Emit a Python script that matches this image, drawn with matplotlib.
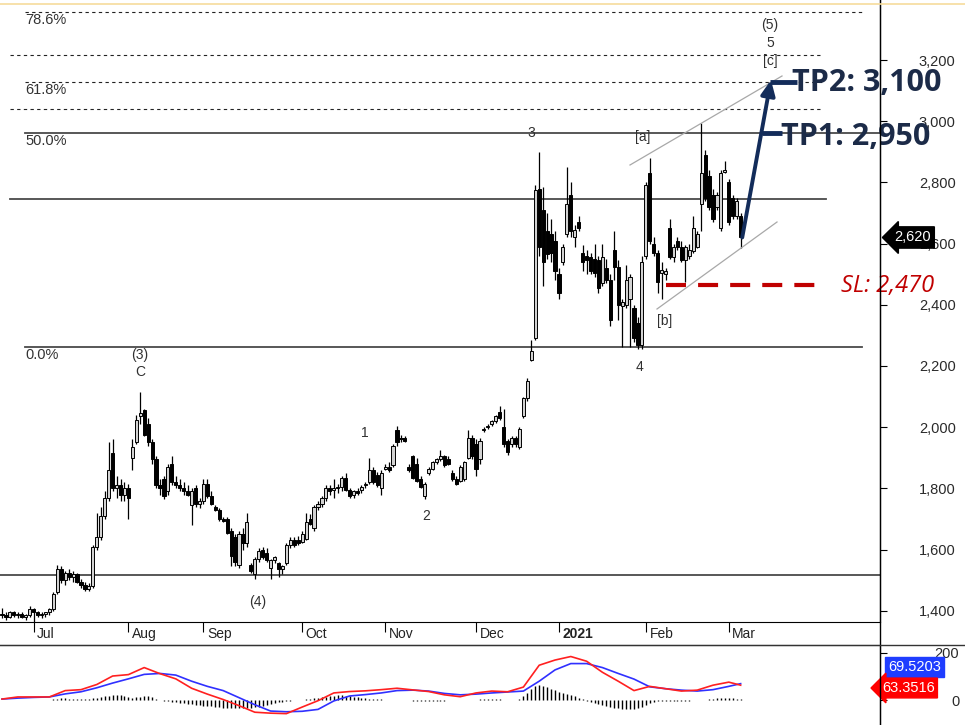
import numpy as np
import matplotlib.pyplot as plt
from matplotlib.lines import Line2D

plt.rcParams['font.family'] = ['Liberation Sans', 'DejaVu Sans']

# daily candles, mid-June 2020 .. early March 2021
opens = [1390, 1385, 1380, 1395, 1385, 1390, 1380, 1385, 1405, 1395, 1385, 1390,
         1395, 1405, 1460, 1535, 1500, 1525, 1510, 1520, 1495, 1485, 1470, 1480,
         1610, 1640, 1710, 1770, 1915, 1800, 1810, 1780, 1800, 1900, 1950, 2035,
         2055, 2010, 1950, 1895, 1810, 1830, 1790, 1880, 1820, 1810, 1800, 1790,
         1745, 1800, 1750, 1760, 1815, 1775, 1740, 1730, 1700, 1700, 1660, 1640,
         1550, 1650, 1620, 1550, 1520, 1570, 1600, 1590, 1540, 1565, 1555, 1535,
         1555, 1615, 1630, 1630, 1625, 1635, 1700, 1670, 1740, 1750, 1770, 1800,
         1795, 1800, 1805, 1835, 1795, 1780, 1790, 1795, 1810, 1820, 1860, 1845,
         1800, 1865, 1870, 1875, 1990, 1960, 1965, 1870, 1905, 1880, 1830, 1775,
         1850, 1865, 1885, 1895, 1905, 1895, 1850, 1830, 1825, 1830, 1900, 1965,
         1945, 1895, 1990, 2000, 2010, 2020, 2050, 2000, 1955, 1945, 1965, 1935,
         2035, 2095, 2220, 2290, 2780, 2710, 2640, 2630, 2610, 2500, 2540, 2630,
         2760, 2620, 2670, 2570, 2560, 2555, 2550, 2545, 2470, 2520, 2480, 2580,
         2525, 2395, 2400, 2420, 2390, 2340, 2270, 2560, 2830, 2600, 2570, 2505,
         2500, 2650, 2555, 2610, 2590, 2545, 2560, 2575, 2590, 2730, 2890, 2820,
         2760, 2720, 2650, 2835, 2800, 2750, 2690, 2690]
highs = [1410, 1395, 1400, 1400, 1395, 1395, 1390, 1415, 1410, 1400, 1395, 1395,
         1410, 1460, 1550, 1545, 1530, 1535, 1530, 1525, 1505, 1495, 1490, 1615,
         1720, 1740, 1790, 1950, 1960, 1840, 1830, 1820, 1815, 1960, 2040, 2115,
         2060, 2030, 1960, 1905, 1830, 1840, 1880, 1905, 1840, 1830, 1820, 1810,
         1800, 1810, 1770, 1830, 1830, 1790, 1745, 1735, 1705, 1705, 1670, 1650,
         1660, 1670, 1720, 1555, 1575, 1605, 1610, 1605, 1570, 1580, 1560, 1550,
         1620, 1640, 1640, 1645, 1660, 1720, 1715, 1745, 1760, 1775, 1810, 1810,
         1830, 1815, 1840, 1850, 1800, 1795, 1800, 1810, 1820, 1900, 1870, 1855,
         1860, 1880, 1885, 1945, 2005, 1975, 1970, 1880, 1910, 1900, 1840, 1820,
         1870, 1890, 1900, 1925, 1910, 1905, 1860, 1840, 1875, 1890, 1990, 1975,
         1960, 1965, 2000, 2010, 2025, 2040, 2070, 2060, 1960, 1970, 1970, 2000,
         2100, 2160, 2285, 2790, 2900, 2785, 2700, 2680, 2640, 2520, 2600, 2850,
         2800, 2660, 2690, 2595, 2580, 2570, 2600, 2560, 2600, 2550, 2500, 2640,
         2545, 2420, 2530, 2500, 2400, 2360, 2560, 2800, 2880, 2620, 2580, 2540,
         2520, 2680, 2600, 2620, 2610, 2595, 2600, 2690, 2640, 2995, 2905, 2840,
         2780, 2770, 2840, 2870, 2810, 2760, 2750, 2700]
lows = [1375, 1370, 1375, 1380, 1375, 1375, 1370, 1380, 1345, 1380, 1375, 1380,
        1385, 1400, 1455, 1490, 1485, 1500, 1495, 1490, 1475, 1465, 1465, 1475,
        1600, 1630, 1700, 1760, 1790, 1770, 1760, 1760, 1700, 1860, 1945, 2010,
        1970, 1940, 1880, 1800, 1780, 1765, 1780, 1810, 1800, 1790, 1780, 1775,
        1680, 1740, 1735, 1750, 1770, 1745, 1725, 1695, 1690, 1650, 1545, 1545,
        1540, 1600, 1610, 1525, 1505, 1560, 1570, 1560, 1505, 1555, 1510, 1520,
        1550, 1605, 1610, 1615, 1620, 1630, 1680, 1660, 1730, 1740, 1760, 1780,
        1770, 1785, 1790, 1790, 1770, 1770, 1780, 1785, 1800, 1815, 1815, 1805,
        1780, 1860, 1855, 1870, 1940, 1950, 1950, 1855, 1830, 1820, 1800, 1765,
        1845, 1860, 1880, 1890, 1870, 1875, 1825, 1810, 1820, 1825, 1895, 1895,
        1840, 1880, 1985, 1995, 2005, 2015, 2025, 1935, 1910, 1935, 1935, 1930,
        2030, 2085, 2215, 2285, 2560, 2460, 2550, 2540, 2480, 2420, 2530, 2620,
        2620, 2590, 2640, 2510, 2500, 2500, 2490, 2440, 2460, 2470, 2330, 2480,
        2350, 2262, 2390, 2262, 2280, 2255, 2255, 2550, 2600, 2560, 2440, 2420,
        2480, 2550, 2540, 2580, 2540, 2475, 2550, 2570, 2585, 2640, 2740, 2710,
        2670, 2710, 2640, 2830, 2660, 2680, 2680, 2585]
closes = [1385, 1380, 1395, 1385, 1390, 1380, 1385, 1405, 1395, 1385, 1390, 1395,
          1405, 1455, 1535, 1500, 1525, 1510, 1520, 1495, 1485, 1470, 1480, 1610,
          1640, 1710, 1770, 1860, 1800, 1810, 1780, 1800, 1770, 1935, 2025, 2045,
          1975, 1950, 1895, 1810, 1800, 1775, 1870, 1820, 1810, 1800, 1790, 1780,
          1790, 1750, 1760, 1815, 1775, 1750, 1730, 1700, 1695, 1655, 1580, 1560,
          1650, 1620, 1690, 1530, 1570, 1595, 1575, 1565, 1565, 1575, 1535, 1545,
          1615, 1630, 1615, 1620, 1650, 1690, 1685, 1740, 1750, 1770, 1800, 1790,
          1800, 1805, 1835, 1795, 1775, 1790, 1785, 1805, 1815, 1860, 1820, 1810,
          1850, 1870, 1860, 1940, 1950, 1965, 1955, 1860, 1835, 1825, 1805, 1815,
          1865, 1885, 1895, 1905, 1875, 1880, 1830, 1815, 1870, 1885, 1965, 1905,
          1865, 1955, 1995, 2005, 2020, 2035, 2030, 1945, 1920, 1965, 1945, 1995,
          2095, 2150, 2250, 2775, 2590, 2540, 2565, 2570, 2510, 2440, 2590, 2730,
          2640, 2645, 2650, 2540, 2545, 2510, 2505, 2455, 2555, 2480, 2350, 2525,
          2400, 2410, 2480, 2490, 2290, 2270, 2540, 2790, 2610, 2570, 2475, 2515,
          2510, 2555, 2590, 2590, 2545, 2590, 2580, 2650, 2630, 2830, 2750, 2720,
          2680, 2760, 2830, 2840, 2670, 2690, 2740, 2620]

month_labels = ['Jul', 'Aug', 'Sep', 'Oct', 'Nov', 'Dec', '2021', 'Feb', 'Mar']
month_bars = [8, 32, 51, 76, 97, 120, 141, 163, 184]

price_ticks = [1400, 1600, 1800, 2000, 2200, 2400, 2600, 2800, 3000, 3200]

# retracement / support lines: level, style
levels = [3357, 3216, 3128, 3040, 2961, 2746, 2262, 1517]
level_dashed = [True, True, True, True, False, False, False, False]
fib_names = ['78.6%', '61.8%', '50.0%', '0.0%']
fib_values = [3357, 3128, 2961, 2262]

last_price = 2620
tp1, tp2, sl = 2950, 3100, 2470

# oscillator, sampled every 4th bar (last point = last bar)
osc_fast = [4, 13, 13, 13, 40, 44, 66, 102, 108, 138, 112, 90, 50, 25, 2, -24,
            -52, -56, -58, -30, -3, 30, 36, 39, 44, 50, 43, 36, 22, 14, 30, 38,
            35, 55, 148, 170, 185, 165, 118, 80, 40, 58, 48, 38, 42, 63, 76, 63]
osc_slow = [4, 8, 11, 13, 26, 35, 52, 72, 90, 109, 113, 106, 80, 58, 40, 10,
            -20, -47, -50, -48, -40, -4, 17, 23, 30, 40, 42, 38, 28, 22, 25, 30,
            34, 38, 80, 128, 155, 155, 138, 113, 89, 56, 48, 42, 38, 44, 58, 69.52]
osc_hist = [1, 1, 0, 1, 1, 0, 1, 2, 1, 0, 1, 1,
            2, 3, 5, 7, 8, 6, 5, 4, 3, 5, 6, 8, 10, 12, 15, 18,
            20, 22, 20, 15, 12, 10, 12, 14, 16, 18, 12, 6,
            -2, -4, -6, -8, -10, -12, -14, -16,
            -18, -20, -22, -24, -25, -26, -28, -30, -32, -34, -35, -36,
            -36, -35, -34, -32, -30, -28, -24, -20, -16, -12, -10, -8,
            -6, -4, -2, 0, 2, 4, 6, 8,
            10, 12, 14, 16, 18, 20, 20, 18, 16, 14, 12, 10, 8, 6, 5, 4,
            3, 2, 2, 1, 1, 0, -1, -2, -3, -4, -5, -5, -6, -6, -5, -4, -3, -2, -1, 0, 1, 2, 1, 0,
            2, 3, 3, 4, 5, 4, 3, 2, 2, 1, 2, 3,
            15, 30, 45, 58, 62, 60, 55, 48, 42, 36, 30, 26, 22, 16, 10, 4,
            -4, -8, -12, -16, -20, -24, -28, -32, -36, -38, -40, -40, -38, -34, -28, -20,
            -12, -8, -6, -5, -5, -6, -6, -5, -5, -4, -3, -2, -1, 0, 2, 4, 6, 8, 9, 10, 9, 8, 6, 4]

W, H = 965, 725
NAVY = '#132c5a'


def bx(px):
    # screen x -> bar index
    return (px - 2) / 3.95


def pv(py):
    # screen y -> price
    return 3200 - (py - 60) * 3.268


def ov(py):
    # screen y -> oscillator value
    return (700 - py) / 0.235


fig = plt.figure(figsize=(W / 100, H / 100), dpi=100)
ax = fig.add_axes([0, 1 - 622 / H, 880 / W, 622 / H])
ax2 = fig.add_axes([0, 0, 880 / W, 80 / H])

o = np.array(opens, float)
hi = np.array(highs, float)
lo = np.array(lows, float)
c = np.array(closes, float)
x = np.arange(len(c))
up = c >= o

ax.vlines(x, lo, hi, color='black', lw=0.9, zorder=2)
body = np.maximum(np.abs(c - o), 5)
ax.bar(x[up], body[up], bottom=o[up], width=0.8, color='#d2d2d2',
       edgecolor='black', lw=0.7, zorder=3)
ax.bar(x[~up], body[~up], bottom=c[~up], width=0.8, color='black',
       edgecolor='black', lw=0.7, zorder=3)

ax.set_xlim(bx(0), bx(880))
ax.set_ylim(pv(622), pv(0))

# horizontal levels
starts = [25, 10, 25, 10, 25, 10, 25, 0]
ends = [862, 822, 822, 822, 880, 826, 862, 880]
for lv, dashed, s, e in zip(levels, level_dashed, starts, ends):
    if dashed:
        ax.axhline(lv, s / 880, e / 880, color='#222222', lw=0.8,
                   ls=(0, (3, 3)), zorder=1)
    else:
        ax.axhline(lv, s / 880, e / 880, color='#4a4a4a', lw=1.3, zorder=1)
for name, val in zip(fib_names, fib_values):
    ax.text(bx(25), val - 27, name, ha='left', va='center', fontsize=10.5,
            color='#333333')

# wave labels
wc = '#303030'
for txt, px, py in [('(3)', 140, 355), ('C', 140, 372), ('(4)', 258, 602),
                    ('1', 365, 433), ('2', 426, 516), ('3', 531, 133),
                    ('4', 639, 367), ('[a]', 643, 137), ('[b]', 665, 321),
                    ('(5)', 770, 25), ('5', 770, 43), ('[c]', 770, 61)]:
    ax.text(bx(px), pv(py), txt, ha='center', va='center', fontsize=10, color=wc)

# channel
ax.plot([bx(630), bx(782)], [pv(165), pv(76)], color='#a8a8a8', lw=0.9)
ax.plot([bx(657), bx(777)], [pv(309), pv(222)], color='#a8a8a8', lw=0.9)

# stop loss
ax.hlines(sl - 5, bx(666), bx(826), colors='#c00000', lw=3,
          linestyles=(0, (4.8, 2.9)), zorder=4)
ax.text(bx(841), sl - 8, 'SL: 2,470', ha='left', va='center', fontsize=17,
        style='italic', color='#c00000', family=['Open Sans', 'DejaVu Sans'],
        clip_on=False, zorder=6)

# targets
ax.hlines(2961, bx(762), bx(782), colors=NAVY, lw=3.5, zorder=5)
ax.hlines(3128, bx(770), bx(797), colors=NAVY, lw=3.5, zorder=5)
ax.annotate('', xy=(bx(771), pv(80)), xytext=(len(c) - 0.6, last_price),
            arrowprops=dict(arrowstyle='-|>,head_length=0.9,head_width=0.42',
                            color=NAVY, lw=2.8, shrinkA=0, shrinkB=0), zorder=5)
ax.text(bx(781), 2948, 'TP1: ' + format(tp1, ','), ha='left', va='center',
        fontsize=22, fontweight='bold', color='#1c2b48',
        family=['Open Sans', 'DejaVu Sans'], clip_on=False, zorder=6)
ax.text(bx(792), 3126, 'TP2: ' + format(tp2, ','), ha='left', va='center',
        fontsize=22, fontweight='bold', color='#1c2b48',
        family=['Open Sans', 'DejaVu Sans'], clip_on=False, zorder=6)

# axes styling
for s in ['top', 'left']:
    ax.spines[s].set_visible(False)
ax.spines['right'].set_color('black')
ax.spines['bottom'].set_color('black')
ax.yaxis.tick_right()
ax.set_yticks(price_ticks)
ax.set_yticklabels([format(t, ',') for t in price_ticks])
ax.tick_params(axis='y', direction='out', length=5, pad=23, labelsize=10.5,
               labelcolor='#2a2a2a')
ax.set_xticks(month_bars)
ax.tick_params(axis='x', direction='out', length=7, labelbottom=False)
for b, lab in zip(month_bars, month_labels):
    ax.text(b + 0.9, -0.0185, lab, transform=ax.get_xaxis_transform(),
            ha='left', va='center', fontsize=10, color='#222222',
            fontweight='bold' if lab == '2021' else 'normal')

ax.text(1.016, last_price, format(last_price, ','), transform=ax.get_yaxis_transform(),
        ha='left', va='center', fontsize=10.5, color='white', clip_on=False,
        bbox=dict(boxstyle='larrow,pad=0.25', fc='black', ec='black'), zorder=7)

# oscillator panel
sx = list(range(0, len(c), 4)) + [len(c) - 1]
ax2.vlines(x, 0, osc_hist, color='black', lw=1)
ax2.plot(sx, osc_slow, color='#3030ff', lw=1.2)
ax2.plot(sx, osc_fast, color='#ff2020', lw=1.2)
ax2.set_xlim(bx(0), bx(880))
ax2.set_ylim(ov(725), ov(645))
for s in ['bottom', 'left']:
    ax2.spines[s].set_visible(False)
ax2.set_xticks([])
ax2.yaxis.tick_right()
ax2.set_yticks([0, 100, 200])
ax2.set_yticklabels(['0', '', '200'])
ax2.tick_params(axis='y', direction='out', length=5, pad=52, labelsize=10.5,
                labelcolor='#2a2a2a')
for lab in ax2.get_yticklabels():
    lab.set_ha('right')

ax2.text(1.009, ov(667), '69.5203', transform=ax2.get_yaxis_transform(),
         ha='left', va='center', fontsize=10.5, color='white', clip_on=False,
         bbox=dict(boxstyle='square,pad=0.2', fc='#1f3dff', ec='#1f3dff'), zorder=7)
ax2.text(1.002, ov(688), '63.3516', transform=ax2.get_yaxis_transform(),
         ha='left', va='center', fontsize=10.5, color='white', clip_on=False,
         bbox=dict(boxstyle='larrow,pad=0.2', fc='#ff0000', ec='#ff0000'), zorder=7)

# frame lines
fig.add_artist(Line2D([880 / W, 880 / W], [0, 1], color='black', lw=1))
fig.add_artist(Line2D([0, 1], [80 / H, 80 / H], color='#333333', lw=1))
fig.add_artist(Line2D([0, 1], [1 - 4 / H, 1 - 4 / H], color='#f6dc9c', lw=1.2))

fig.savefig('out.png', dpi=100)
